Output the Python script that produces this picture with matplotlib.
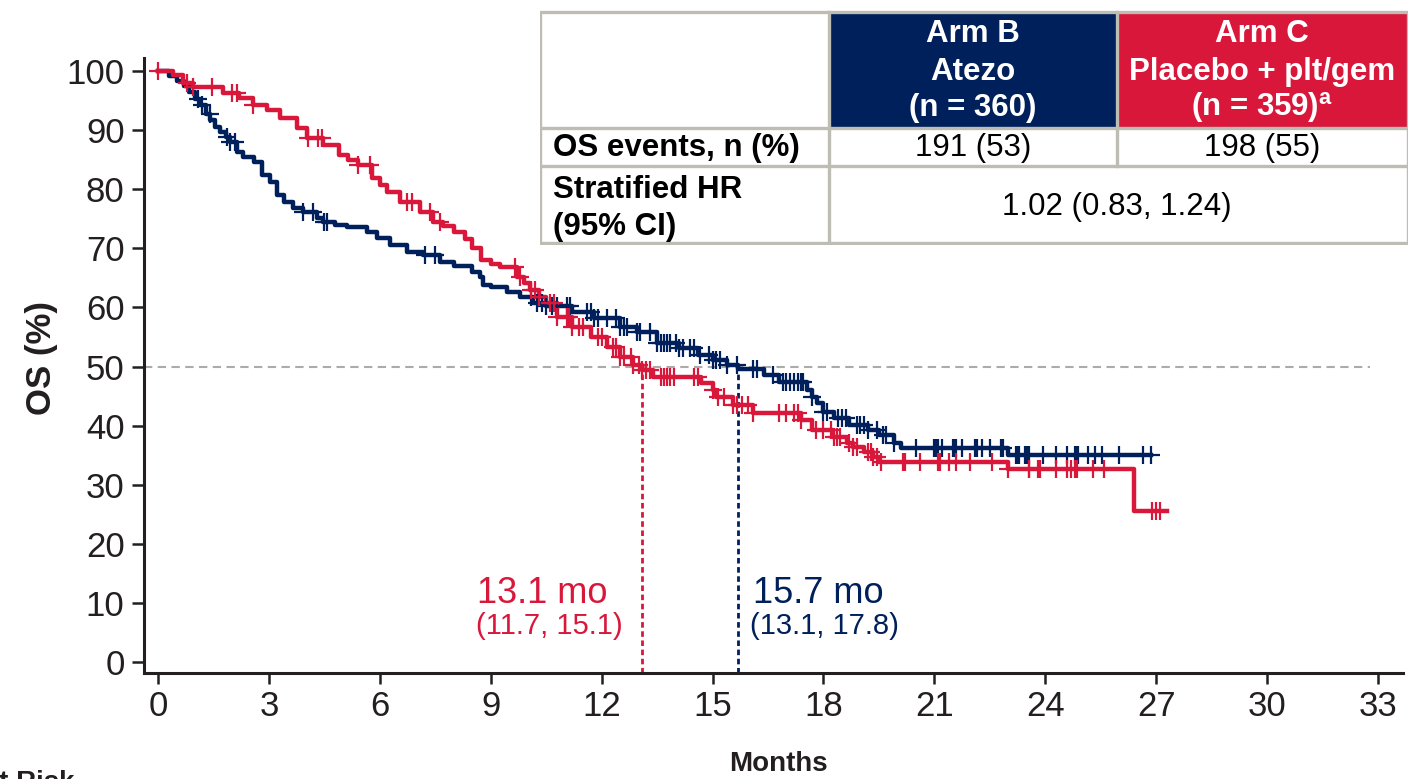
import numpy as np
import matplotlib.pyplot as plt
from matplotlib.patches import Rectangle

plt.rcParams['font.family'] = ['Liberation Sans', 'DejaVu Sans']
plt.rcParams['mathtext.fontset'] = 'custom'
plt.rcParams['mathtext.rm'] = 'Liberation Sans'
plt.rcParams['mathtext.bf'] = 'Liberation Sans:bold'

NAVY = '#00205B'
RED = '#D8173A'
INK = '#231F20'

# Arm B (Atezo): KM step times (months) and OS (%) after each step
b_t = [0, 0.3, 0.5, 0.7, 0.85, 1.0, 1.14, 1.3, 1.41, 1.55, 1.68, 1.85, 1.95,
       2.14, 2.3, 2.6, 2.81, 3.03, 3.22, 3.4, 3.65, 3.92, 4.3, 4.47, 4.8, 5.1,
       5.66, 5.93, 6.28, 6.74, 7.17, 7.63, 8.0, 8.5, 8.7, 8.8, 9.0, 9.45, 9.8,
       10.15, 10.5, 11.2, 11.8, 12.5, 12.96, 13.5, 14.1, 14.6, 15.0, 15.4,
       15.7, 16.4, 16.8, 17.56, 17.7, 17.83, 18.0, 18.3, 18.7, 19.2, 19.5,
       19.9, 20.1, 23.0]
b_s = [100, 99.2, 98.3, 97.5, 96.4, 95.3, 94.2, 92.8, 91.7, 90.6, 89.7, 88.8,
       88.0, 86.3, 85.4, 84.6, 82.4, 81.2, 79.0, 77.8, 76.8, 76.1, 75.2, 74.4,
       74.0, 73.6, 72.8, 71.8, 70.6, 69.4, 68.9, 67.7, 67.0, 66.0, 65.1, 63.8,
       63.5, 62.6, 61.8, 60.7, 60.2, 59.2, 58.2, 56.7, 55.8, 54.0, 53.1, 51.9,
       51.1, 50.3, 49.6, 48.6, 47.4, 46.0, 44.8, 43.8, 42.3, 41.3, 40.1, 39.3,
       38.4, 37.0, 36.2, 35.0]
b_end = 26.85
b_cens = [1.08, 1.19, 1.4, 1.87, 1.95, 2.08, 3.92, 4.2, 4.5, 4.57, 7.22, 7.5,
          10.1, 10.25, 10.4, 10.5, 10.65, 10.8, 11.05, 11.15, 11.6, 11.7, 11.8,
          11.9, 12.15, 12.4, 12.5, 12.6, 12.7, 12.96, 13.05, 13.3, 13.5, 13.6,
          13.7, 13.78, 13.85, 14.0, 14.1, 14.2, 14.4, 14.5, 14.67, 14.9, 15.0,
          15.1, 15.2, 15.4, 15.67, 16.1, 16.2, 16.65, 16.9, 17.0, 17.1, 17.2,
          17.3, 17.4, 17.45, 17.7, 18.0, 18.1, 18.4, 18.5, 18.6, 18.9, 19.0,
          19.1, 19.2, 19.45, 19.6, 19.7, 19.9, 20.5, 21.0, 21.05, 21.1, 21.2,
          21.5, 21.55, 21.6, 21.75, 22.1, 22.15, 22.3, 22.5, 22.8, 22.85, 23.2,
          23.25, 23.3, 23.45, 23.5, 23.55, 23.95, 24.3, 24.6, 24.8, 24.85,
          24.9, 25.15, 25.35, 25.55, 26.0, 26.65, 26.85]

# Arm C (Placebo + plt/gem)
r_t = [0, 0.4, 0.68, 0.95, 1.75, 2.2, 2.57, 2.95, 3.3, 3.76, 4.03, 4.47, 4.9,
       5.15, 5.4, 5.8, 6.0, 6.2, 6.55, 7.1, 7.45, 7.7, 8.0, 8.3, 8.5, 8.75,
       9.0, 9.25, 9.7, 9.9, 10.07, 10.3, 10.5, 10.8, 11.2, 11.7, 12.15, 12.5,
       12.85, 13.1, 13.4, 14.7, 15.0, 15.1, 15.56, 16.1, 17.4, 17.7, 18.27,
       18.65, 18.8, 19.1, 19.35, 19.5, 23.0, 26.4]
r_s = [100, 99.3, 98.0, 97.3, 96.3, 95.4, 94.2, 93.4, 92.0, 90.3, 88.7, 87.5,
       85.8, 85.0, 84.1, 81.9, 80.7, 79.5, 77.8, 76.1, 74.5, 73.8, 72.8, 71.5,
       70.0, 68.0, 67.3, 66.8, 65.1, 64.2, 62.9, 61.7, 60.7, 58.4, 56.7, 55.0,
       53.3, 51.6, 50.3, 49.4, 48.2, 47.2, 46.0, 44.8, 43.5, 42.1, 41.0, 39.3,
       38.1, 37.0, 36.4, 35.5, 34.7, 33.8, 32.6, 25.6]
r_end = 27.3
r_cens = [0.0, 0.78, 0.95, 1.46, 2.0, 2.14, 2.57, 4.06, 4.33, 4.43, 5.41, 5.74,
          6.74, 6.87, 7.36, 7.63, 9.66, 9.8, 10.1, 10.2, 10.3, 10.6, 10.7,
          10.8, 11.05, 11.12, 11.2, 11.4, 11.5, 11.9, 12.0, 12.3, 12.4, 12.5,
          12.6, 12.8, 12.85, 13.0, 13.1, 13.2, 13.3, 13.6, 13.7, 13.78, 13.85,
          13.95, 14.5, 14.6, 15.0, 15.15, 15.3, 15.56, 15.66, 15.8, 15.95,
          16.1, 16.8, 17.0, 17.2, 17.3, 17.4, 17.8, 18.0, 18.2, 18.3, 18.38,
          18.45, 18.7, 18.8, 18.9, 19.2, 19.28, 19.35, 19.45, 19.55, 20.15,
          20.2, 20.6, 21.1, 21.15, 21.4, 21.6, 21.97, 22.56, 23.0, 23.55,
          23.57, 23.8, 23.85, 24.3, 24.6, 24.7, 24.8, 24.85, 25.3, 25.6, 26.9,
          27.0, 27.1]

medians = {'B': (15.7, '15.7 mo', '(13.1, 17.8)'),
           'C': (13.1, '13.1 mo', '(11.7, 15.1)')}


def surv_at(t, times, surv):
    idx = np.searchsorted(times, t, side='right') - 1
    return np.asarray(surv)[idx]


fig = plt.figure(figsize=(14.21, 7.79), dpi=100)
ax = fig.add_axes([144 / 1421, 1 - 673 / 779, 1259 / 1421, 615 / 779])
ymin, ymax = -1.86, 102.2
ax.set_xlim(-0.38, 33.68)
ax.set_ylim(ymin, ymax)

# reference line at 50% and median drop lines
ax.plot([-0.38, 32.8], [50, 50], color='#ABABAB', lw=1.5, ls=(0, (4.0, 2.6)), zorder=1)
for key, color in [('C', RED), ('B', NAVY)]:
    m = medians[key][0]
    ax.plot([m, m], [ymin, 50], color=color, lw=2.0, ls=(0, (2.0, 1.3)), zorder=1)

for times, surv, end, cens, color in [(b_t, b_s, b_end, b_cens, NAVY),
                                      (r_t, r_s, r_end, r_cens, RED)]:
    ax.step(list(times) + [end], list(surv) + [surv[-1]], where='post',
            color=color, lw=3.2, zorder=3)
    ax.plot(cens, surv_at(cens, times, surv), ls='none', marker='+', ms=13,
            mew=1.6, color=color, zorder=4)

# median labels
ax.text(10.39, 10.0, medians['C'][1], color=RED, fontsize=26, ha='center', va='baseline')
ax.text(10.58, 4.7, medians['C'][2], color=RED, fontsize=21, ha='center', va='baseline')
ax.text(17.86, 10.0, medians['B'][1], color=NAVY, fontsize=26, ha='center', va='baseline')
ax.text(18.02, 4.7, medians['B'][2], color=NAVY, fontsize=21, ha='center', va='baseline')

ax.set_xticks(range(0, 34, 3))
ax.set_yticks(range(0, 101, 10))
ax.tick_params(direction='out', length=8, width=1.8, color=INK, labelcolor=INK,
               labelsize=25, pad=4)
ax.tick_params(axis='y', length=9, pad=5)
for side in ['top', 'right']:
    ax.spines[side].set_visible(False)
for side in ['left', 'bottom']:
    ax.spines[side].set_linewidth(2.2)
    ax.spines[side].set_color(INK)

ax.set_xlabel('Months', fontsize=20, fontweight='bold', color=INK)
ax.xaxis.set_label_coords(0.504, -0.127)
ax.set_ylabel('OS (%)', fontsize=25, fontweight='bold', color=INK)
ax.yaxis.set_label_coords(-0.068, 0.512)

# summary table in pixel coordinates
tax = fig.add_axes([540 / 1421, 1 - 245 / 779, 868 / 1421, 235 / 779])
tax.set_xlim(540, 1408)
tax.set_ylim(245, 10)
tax.axis('off')

tax.add_patch(Rectangle((829, 12), 288, 116, facecolor=NAVY, edgecolor='none'))
tax.add_patch(Rectangle((1117, 12), 291, 116, facecolor=RED, edgecolor='none'))
grid = '#BEBDB3'
tax.add_patch(Rectangle((540, 12), 868, 231, facecolor='none', edgecolor=grid, lw=2.4))
tax.plot([829, 829], [12, 243], color=grid, lw=2.4)
tax.plot([1117, 1117], [12, 166], color=grid, lw=2.4)
tax.plot([540, 1408], [128, 128], color=grid, lw=2.4)
tax.plot([540, 1408], [166, 166], color=grid, lw=2.4)

fs = 22.5
hdr = dict(color='white', fontsize=fs, fontweight='bold', ha='center', va='center')
for y, txt in zip([34, 72, 108], ['Arm B', 'Atezo', '(n = 360)']):
    tax.text(973, y, txt, **hdr)
for y, txt in zip([34, 72, 108], ['Arm C', 'Placebo + plt/gem', r'(n = 359)$^{\mathbf{a}}$']):
    tax.text(1262, y, txt, **hdr)

tax.text(553, 148, 'OS events, n (%)', fontsize=fs, fontweight='bold', color='black', va='center')
tax.text(973, 148, '191 (53)', fontsize=fs, color='black', ha='center', va='center')
tax.text(1262, 148, '198 (55)', fontsize=fs, color='black', ha='center', va='center')
tax.text(553, 190, 'Stratified HR', fontsize=fs, fontweight='bold', color='black', va='center')
tax.text(553, 227, '(95% CI)', fontsize=fs, fontweight='bold', color='black', va='center')
tax.text(1117, 207, '1.02 (0.83, 1.24)', fontsize=fs, color='black', ha='center', va='center')

fig.text(75 / 1421, 1 - 770 / 779, 'Patients at Risk', fontsize=20, fontweight='bold',
         color=INK, ha='right', va='top')

fig.savefig('out.png', dpi=100)
